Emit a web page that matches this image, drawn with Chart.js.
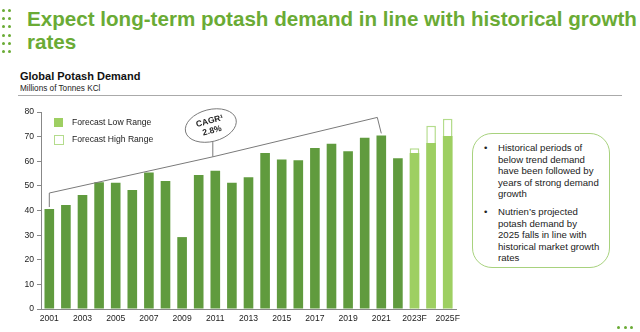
<!DOCTYPE html>
<html>
<head>
<meta charset="utf-8">
<script src="https://cdn.jsdelivr.net/npm/chart.js@4"></script>
<style>
  body { margin: 0; width: 640px; height: 332px; overflow: hidden; background: #fff; position: relative;
         font-family: "Liberation Sans", Arial, sans-serif; color: #222; }
  .dots span { position: absolute; width: 3px; height: 3px; border-radius: 50%; background: #6aab35; }
  #title { position: absolute; left: 27px; top: 7px; font-size: 20.6px; font-weight: bold; line-height: 23px; color: #6aab35; white-space: nowrap; }
  #sub1 { position: absolute; left: 20px; top: 70px; font-size: 11px; font-weight: bold; color: #111; }
  #sub2 { position: absolute; left: 20px; top: 84px; font-size: 8.2px; color: #222; }
  #rule { position: absolute; left: 18px; top: 95px; width: 604px; height: 1px; background: #aaa; }
  #chartBox { position: absolute; left: 0; top: 100px; width: 470px; height: 232px; }
  #note { position: absolute; left: 472px; top: 133px; width: 136px; height: 133px; border: 1.5px solid #a8d27e; border-radius: 20px; }
  #note p { position: absolute; left: 25px; margin: 0; font-size: 9.6px; line-height: 11.5px; white-space: nowrap; color: #222; }
  #note b { position: absolute; left: -14px; font-weight: normal; }
</style>
</head>
<body>
<div class="dots" id="dotsLeft"></div>
<div class="dots" id="dotsRight"></div>
<div id="title">Expect long-term potash demand in line with historical growth<br>rates</div>
<div id="sub1">Global Potash Demand</div>
<div id="sub2">Millions of Tonnes KCl</div>
<div id="rule"></div>
<div id="chartBox"><canvas id="potashChart" width="470" height="232"></canvas></div>
<div id="note">
  <p style="top:8px"><b>•</b>Historical periods of<br>below trend demand<br>have been followed by<br>years of strong demand<br>growth</p>
  <p style="top:72px"><b>•</b>Nutrien’s projected<br>potash demand by<br>2025 falls in line with<br>historical market growth<br>rates</p>
</div>
<script>
var years = ['2001', '2002', '2003', '2004', '2005', '2006', '2007', '2008', '2009', '2010', '2011', '2012', '2013',
             '2014', '2015', '2016', '2017', '2018', '2019', '2020', '2021', '2022', '2023F', '2024F', '2025F'];
var lowValues = [40.6, 42.2, 46.3, 51.5, 51.3, 48.3, 55.4, 52.0, 29.2, 54.4, 56.1, 51.3, 53.5,
                 63.3, 60.7, 60.4, 65.4, 67.1, 64.1, 69.5, 70.5, 61.2, 63.3, 67.4, 70.3];
var highValues = [null, null, null, null, null, null, null, null, null, null, null, null, null,
                  null, null, null, null, null, null, null, null, null, 65.3, 74.4, 77.3];
var yTicks = [0, 10, 20, 30, 40, 50, 60, 70, 80];
var legendLabels = ['Forecast Low Range', 'Forecast High Range'];
var cagrText = ['CAGR¹', '2.8%'];
var firstForecast = 22;

var darkGreen = '#609b3e';
var lightGreen = '#9ecf62';
var fontFamily = '"Liberation Sans", Arial, sans-serif';

// decorative dot grids
(function() {
  var box = document.getElementById('dotsLeft');
  for (var r = 0; r < 6; r++) {
    for (var c = 0; c < 2; c++) {
      var d = document.createElement('span');
      d.style.left = (2 + c * 6) + 'px';
      d.style.top = (9 + r * 8.2) + 'px';
      box.appendChild(d);
    }
  }
  var box2 = document.getElementById('dotsRight');
  for (var i = 0; i < 3; i++) {
    var d2 = document.createElement('span');
    d2.style.left = (617 + i * 6.5) + 'px';
    d2.style.top = '326px';
    box2.appendChild(d2);
  }
})();

var overlay = {
  id: 'overlay',
  afterDraw: function(chart) {
    var ctx = chart.ctx;
    var area = chart.chartArea;
    var x = chart.scales.x, y = chart.scales.y;

    // legend inside the plot
    ctx.save();
    ctx.font = '8.6px ' + fontFamily;
    ctx.textBaseline = 'middle';
    var lx = area.left + 13, ly = area.top + 6;
    ctx.fillStyle = lightGreen;
    ctx.fillRect(lx, ly, 9, 9);
    ctx.strokeStyle = '#b4dc8c';
    ctx.lineWidth = 1;
    ctx.strokeRect(lx + 0.5, ly + 17.5, 9, 9);
    ctx.fillStyle = '#222';
    ctx.fillText(legendLabels[0], lx + 18, ly + 5);
    ctx.fillText(legendLabels[1], lx + 18, ly + 22);
    ctx.restore();

    // CAGR bracket from 2001 to 2021
    var xL = x.getPixelForValue(0), xR = x.getPixelForValue(20);
    var mid = x.getPixelForValue(9.85);
    var yL0 = y.getPixelForValue(lowValues[0]) - 2, yL1 = y.getPixelForValue(47.1);
    var yR0 = y.getPixelForValue(lowValues[20]) - 2, yR1 = y.getPixelForValue(77.8);
    var yM = y.getPixelForValue(61.8), yTop = y.getPixelForValue(67.8);
    ctx.save();
    ctx.strokeStyle = '#7a7a7a';
    ctx.lineWidth = 1;
    ctx.beginPath();
    ctx.moveTo(xL, yL0);
    ctx.lineTo(xL, yL1);
    ctx.lineTo(mid, yM);
    ctx.lineTo(mid, yTop);
    ctx.moveTo(mid, yM);
    ctx.lineTo(xR - 4, yR1);
    ctx.lineTo(xR, yR0);
    ctx.stroke();

    var cx = mid - 2, cy = y.getPixelForValue(74.5);
    ctx.fillStyle = '#fff';
    ctx.beginPath();
    ctx.ellipse(cx, cy, 26, 16, -0.25, 0, Math.PI * 2);
    ctx.fill();
    ctx.stroke();
    ctx.translate(cx, cy);
    ctx.rotate(-0.25);
    ctx.fillStyle = '#222';
    ctx.font = 'bold 8.5px ' + fontFamily;
    ctx.textAlign = 'center';
    ctx.textBaseline = 'middle';
    ctx.fillText(cagrText[0], 0, -4.5);
    ctx.fillText(cagrText[1], 0, 5.5);
    ctx.restore();
  }
};

var ctx = document.getElementById('potashChart').getContext('2d');
var potashChart = new Chart(ctx, {
  type: 'bar',
  data: {
    labels: years,
    datasets: [{
      label: 'Forecast Low Range',
      data: lowValues,
      backgroundColor: lowValues.map(function(v, i) { return i >= firstForecast ? lightGreen : darkGreen; }),
      borderWidth: 0,
      order: 1
    }, {
      label: 'Forecast High Range',
      data: highValues,
      backgroundColor: '#ffffff',
      borderColor: '#b4dc8c',
      borderWidth: 1.5,
      order: 2
    }]
  },
  options: {
    responsive: false,
    animation: false,
    datasets: { bar: { grouped: false, categoryPercentage: 1, barPercentage: 0.58 } },
    layout: { padding: { top: 12, right: 14, bottom: 3, left: 0 } },
    plugins: { legend: { display: false }, tooltip: { enabled: false } },
    scales: {
      x: {
        grid: { display: false, drawTicks: false, tickLength: 0 },
        border: { color: '#888' },
        ticks: {
          autoSkip: false, maxRotation: 0, color: '#222', padding: 4,
          font: { family: fontFamily, size: 8.6 },
          callback: function(v, i) { return i % 2 === 0 ? years[i] : ''; }
        },
        afterFit: function(s) { s.height = 20; }
      },
      y: {
        min: 0, max: 80,
        afterBuildTicks: function(s) { s.ticks = yTicks.map(function(v) { return { value: v }; }); },
        ticks: { color: '#222', padding: 3, font: { family: fontFamily, size: 8.6 } },
        grid: { drawOnChartArea: false, tickLength: 4, color: '#888' },
        border: { color: '#888' },
        afterFit: function(s) { s.width = 41; }
      }
    }
  },
  plugins: [overlay]
});
</script>
</body>
</html>
